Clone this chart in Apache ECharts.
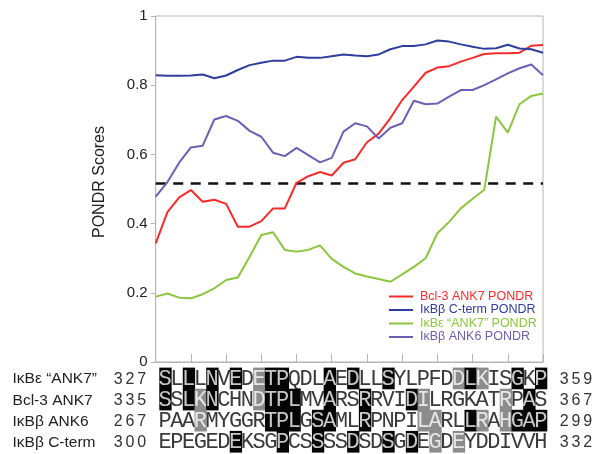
<!DOCTYPE html>
<html><head><meta charset="utf-8">
<script src="https://cdn.jsdelivr.net/npm/echarts@6/dist/echarts.min.js"></script>
<style>html,body{margin:0;padding:0;background:#fff}#c{width:595px;height:454px}</style>
</head><body><div id="c"></div>
<script>
// ---------- data ----------
const seriesNames = ['Bcl-3 ANK7 PONDR', 'IκBβ C-term PONDR', 'IκBε “ANK7” PONDR', 'IκBβ ANK6 PONDR'];
const seriesColors = ['#f82a2a', '#2f3d9e', '#8cc63f', '#6e5fb4'];
const bcl3 = [0.343, 0.433, 0.476, 0.497, 0.463, 0.469, 0.457, 0.391, 0.391, 0.407, 0.444, 0.444, 0.518, 0.537, 0.549, 0.539, 0.576, 0.586, 0.635, 0.66, 0.705, 0.757, 0.796, 0.836, 0.851, 0.855, 0.868, 0.879, 0.89, 0.892, 0.892, 0.894, 0.914, 0.916];
const ctermB = [0.829, 0.827, 0.827, 0.828, 0.831, 0.82, 0.828, 0.844, 0.858, 0.865, 0.871, 0.871, 0.882, 0.879, 0.879, 0.884, 0.889, 0.886, 0.884, 0.889, 0.904, 0.913, 0.913, 0.918, 0.929, 0.926, 0.918, 0.911, 0.905, 0.907, 0.917, 0.906, 0.904, 0.894];
const ank7E = [0.189, 0.198, 0.186, 0.184, 0.196, 0.213, 0.237, 0.244, 0.304, 0.367, 0.375, 0.324, 0.319, 0.324, 0.337, 0.298, 0.275, 0.256, 0.247, 0.24, 0.232, 0.253, 0.275, 0.3, 0.372, 0.405, 0.444, 0.472, 0.498, 0.709, 0.663, 0.745, 0.769, 0.776];
const ank6B = [0.478, 0.52, 0.576, 0.62, 0.625, 0.701, 0.711, 0.697, 0.668, 0.651, 0.605, 0.595, 0.619, 0.598, 0.577, 0.59, 0.666, 0.69, 0.681, 0.646, 0.677, 0.69, 0.755, 0.745, 0.747, 0.767, 0.786, 0.786, 0.8, 0.817, 0.834, 0.849, 0.86, 0.829];
const thresholdX = [0, 33];
const thresholdY = [0.516, 0.516];

const rowNames = ['IκBε “ANK7”', 'Bcl-3 ANK7', 'IκBβ ANK6', 'IκBβ C-term'];
const rowStart = ['327', '335', '267', '300'];
const rowEnd = ['359', '367', '299', '332'];
const sequences = [
  'SLLLNVEDETPQDLAEDLLSYLPFDDLKISGKP',
  'SSLKNCHNDTPLMVARSRRVIDILRGKATRPAS',
  'PAARMYGGRTPLGSAMLRPNPILARLLRAHGAP',
  'EPEGEDEKSGPCSSSSDSDSGDEGDEYDDIVVH'
];
// k = identical (black), g = similar (grey), . = none
const shading = [
  'k.k.k.k.gkk...k.k..k.....gkg..k.k',
  'k.kgk...gkkk..k..k...kg......g.k.',
  '...g.....kkk.kk..k....gg..kg.gkkk',
  '......k...k..k..k..k.k.g.g.......'
];

// ---------- build alignment cells ----------
const cells = [];
sequences.forEach((seq, r) => {
  for (let j = 0; j < seq.length; j++) cells.push({x: j, r, t: seq[j], kind: 'res', sh: shading[r][j]});
  for (let d = 0; d < 3; d++) {
    cells.push({x: -4 + d, r, t: rowStart[r][d], kind: 'num'});
    cells.push({x: 34 + d, r, t: rowEnd[r][d], kind: 'num'});
  }
  cells.push({x: -12.5, r, t: rowNames[r], kind: 'name'});
});

const chart = echarts.init(document.getElementById('c'), null, {renderer: 'canvas'});
const pair = arr => arr.map((v, i) => [i, v]);
const lineSeries = [bcl3, ctermB, ank7E, ank6B].map((arr, k) => ({
  name: seriesNames[k], type: 'line', xAxisIndex: 0, yAxisIndex: 0,
  data: pair(arr), symbol: 'none', smooth: false,
  lineStyle: {color: seriesColors[k], width: 2}, itemStyle: {color: seriesColors[k]}
}));

const colW = 387.4 / 33;
const alignLeft = 159.3 - 13 * colW;

chart.setOption({
  animation: false,
  grid: [
    {left: 155.7, top: 16, width: 387.3, height: 346, show: true, borderColor: '#b5b5b5', borderWidth: 1},
    {left: alignLeft, top: 367.6, width: 50 * colW, height: 84.4}
  ],
  xAxis: [
    {gridIndex: 0, type: 'value', min: 0, max: 33, interval: 3,
     axisLine: {show: true, lineStyle: {color: '#b5b5b5', width: 1}},
     axisTick: {show: true, inside: true, length: 8, lineStyle: {color: '#b5b5b5'}},
     axisLabel: {show: false}, splitLine: {show: false}},
    {gridIndex: 1, type: 'value', min: -13, max: 37, show: false}
  ],
  yAxis: [
    {gridIndex: 0, type: 'value', min: 0, max: 1, interval: 0.2,
     axisLine: {show: true, lineStyle: {color: '#b5b5b5', width: 1}},
     axisTick: {show: true, inside: false, length: 5, lineStyle: {color: '#b5b5b5'}},
     axisLabel: {color: '#222', fontSize: 15, fontFamily: 'Liberation Sans', margin: 8},
     splitLine: {show: false},
     name: 'PONDR Scores', nameLocation: 'middle', nameGap: 48,
     nameTextStyle: {color: '#222', fontSize: 16, fontFamily: 'Liberation Sans', padding: [0, 0, 0, 14]}},
    {gridIndex: 1, type: 'value', min: 0, max: 4, inverse: true, show: false}
  ],
  legend: {
    orient: 'vertical', left: 384, top: 285, itemWidth: 24, itemHeight: 2, itemGap: 0.5,
    icon: 'rect',
    textStyle: {fontSize: 12.5, fontFamily: 'Liberation Sans', padding: [0, 0, 0, 2]},
    data: seriesNames.map((n, k) => ({name: n, icon: 'rect', textStyle: {color: seriesColors[k]}}))
  },
  series: [
    ...lineSeries,
    {name: 'threshold', type: 'line', xAxisIndex: 0, yAxisIndex: 0,
     data: thresholdX.map((x, i) => [x, thresholdY[i]]), symbol: 'none',
     lineStyle: {color: '#111', width: 2.5, type: [10, 7.5]}, z: 1},
    {name: 'alignment', type: 'custom', xAxisIndex: 1, yAxisIndex: 1, clip: false,
     data: cells.map(c => [c.x, c.r]),
     renderItem: function (params, api) {
       const c = cells[params.dataIndex];
       const p = api.coord([c.x, c.r]);
       const p2 = api.coord([c.x + 1, c.r + 1]);
       const w = Math.abs(p2[0] - p[0]), h = Math.abs(p2[1] - p[1]);
       const children = [];
       if (c.kind === 'res') {
         let txt = '#3a3a3a';
         if (c.sh === 'k') { children.push({type: 'rect', shape: {x: p[0], y: p[1], width: w + 0.6, height: h + 0.6}, style: {fill: '#050505'}}); txt = '#c8c8c8'; }
         if (c.sh === 'g') { children.push({type: 'rect', shape: {x: p[0], y: p[1], width: w + 0.6, height: h + 0.6}, style: {fill: '#8c8c8c'}}); txt = '#e6e6e6'; }
         children.push({type: 'text', x: p[0] + w / 2, y: p[1] + h / 2 + 1,
           style: {text: c.t, fill: txt, fontSize: 22, fontFamily: 'Liberation Mono', align: 'center', verticalAlign: 'middle'}});
       } else if (c.kind === 'num') {
         children.push({type: 'text', x: p[0] + w / 2, y: p[1] + h / 2 + 1,
           style: {text: c.t, fill: '#333', fontSize: 16, fontFamily: 'Liberation Sans', align: 'center', verticalAlign: 'middle'}});
       } else {
         children.push({type: 'text', x: p[0], y: p[1] + h / 2 + 1,
           style: {text: c.t, fill: '#222', fontSize: 15.5, fontFamily: 'Liberation Sans', align: 'left', verticalAlign: 'middle'}});
       }
       return {type: 'group', children};
     }}
  ]
});
</script></body></html>
